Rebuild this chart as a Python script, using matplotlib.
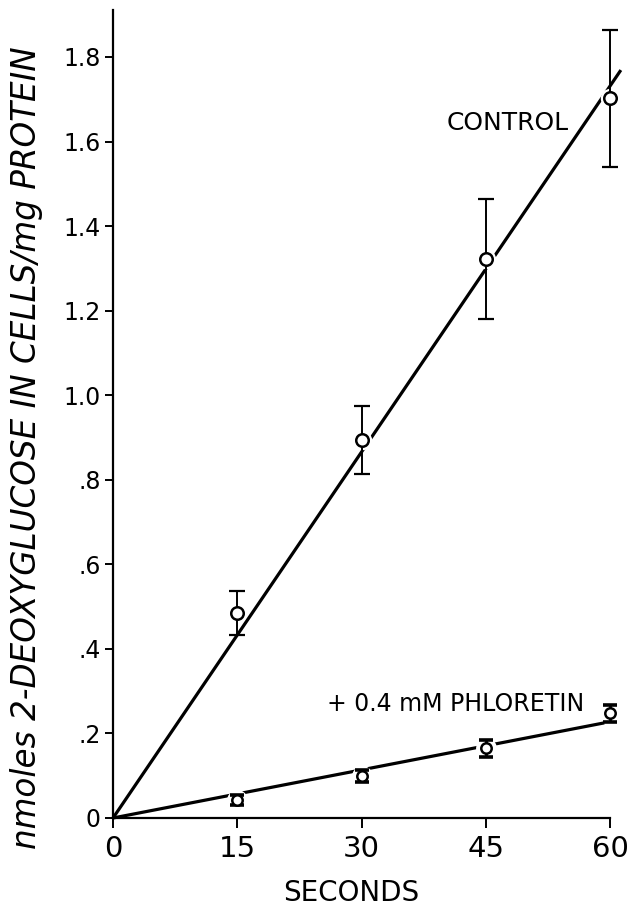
import matplotlib
matplotlib.use("Agg")
import matplotlib.pyplot as plt
import numpy as np

plt.rcParams['font.family'] = ['DejaVu Sans']

# uptake time points (s)
seconds = [15, 30, 45, 60]

# control cells
control = [0.485, 0.894, 1.322, 1.702]
control_err = [0.053, 0.081, 0.141, 0.162]

# + 0.4 mM phloretin
phloretin = [0.043, 0.099, 0.165, 0.248]
phloretin_err = [0.012, 0.015, 0.020, 0.020]

# fitted lines through the origin: (x end, y end)
control_fit = ([0, 61.3], [0, 1.769])
phloretin_fit = ([0, 59.3], [0, 0.225])

fig = plt.figure(figsize=(6.3, 9.1), dpi=100)
ax = fig.add_axes([0.1794, 0.1011, 0.789, 0.8874])

ax.plot(*control_fit, color='black', lw=2.3, solid_capstyle='butt',
        zorder=2, clip_on=False)
ax.plot(*phloretin_fit, color='black', lw=2.3, solid_capstyle='butt',
        zorder=2, clip_on=False)

# white halo so the lines break around the points
ax.plot(seconds, control, 'o', ms=14, mfc='white', mec='none', zorder=3, clip_on=False)
ax.plot(seconds, phloretin, 'o', ms=15, mfc='white', mec='none', zorder=3, clip_on=False)

eb1 = ax.errorbar(seconds, control, yerr=control_err, fmt='none', ecolor='black',
                  elinewidth=1.4, capsize=5.5, capthick=1.6, zorder=4)
eb2 = ax.errorbar(seconds, phloretin, yerr=phloretin_err, fmt='none', ecolor='black',
                  elinewidth=2.0, capsize=5, capthick=2.6, zorder=4)
for eb in (eb1, eb2):
    for art in eb.lines[1] + eb.lines[2]:
        art.set_clip_on(False)
ax.plot(seconds, control, 'o', ms=9, mfc='white', mec='black', mew=1.8,
        zorder=5, clip_on=False)
ax.plot(seconds, phloretin, 'o', ms=7.5, mfc='white', mec='black', mew=1.8,
        zorder=5, clip_on=False)

ax.set_xlim(0, 60)
ax.set_ylim(0, 1.91)
ax.set_xticks([0, 15, 30, 45, 60])
ax.set_xticklabels(['0', '15', '30', '45', '60'], fontsize=21)
ax.set_yticks(np.arange(0, 1.81, 0.2))
ax.set_yticklabels(['0', '.2', '.4', '.6', '.8', '1.0', '1.2', '1.4', '1.6', '1.8'], fontsize=17)

for s in ['top', 'right']:
    ax.spines[s].set_visible(False)
for s in ['left', 'bottom']:
    ax.spines[s].set_linewidth(1.6)
ax.tick_params(direction='out', length=6, width=1.4, pad=3)
ax.tick_params(axis='x', length=7, pad=5)

fig.text(508 / 630, 1 - 123 / 910, 'CONTROL', fontsize=18,
         ha='center', va='center')
fig.text(327 / 630, 1 - 704 / 910, '+ 0.4 mM PHLORETIN', fontsize=17,
         ha='left', va='center')

fig.text(351 / 630, 1 - 893 / 910, 'SECONDS', fontsize=20,
         ha='center', va='center')
fig.text(27 / 630, 1 - 448 / 910, 'nmoles 2-DEOXYGLUCOSE IN CELLS/mg PROTEIN',
         fontsize=23.5, style='italic', rotation=90, ha='center', va='center')

fig.savefig('out.png', dpi=100)
